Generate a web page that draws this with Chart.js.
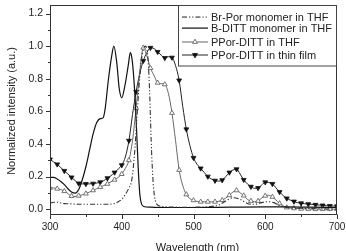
<!DOCTYPE html>
<html><head><meta charset="utf-8">
<script src="https://cdn.jsdelivr.net/npm/chart.js@4"></script>
<style>html,body{margin:0;padding:0;background:#fff;}canvas{display:block;}</style>
</head><body>
<canvas id="c" width="346" height="251"></canvas>
<script>
// ---- DATA ----
const seriesLabels = ["Br-Por monomer in THF", "B-DITT monomer in THF", "PPor-DITT in THF", "PPor-DITT in thin film"];
const xTicks = [300, 400, 500, 600, 700];
const xMinorTicks = [350, 450, 550, 650];
const yTicks = [0.0, 0.2, 0.4, 0.6, 0.8, 1.0, 1.2];
const yMinorTicks = [0.1, 0.3, 0.5, 0.7, 0.9, 1.1];
const xTitle = "Wavelength (nm)";
const yTitle = "Normalized intensity (a.u.)";

const brPorWl = [300,305,310,315,320,330,340,360,380,390,395,400,405,410,414,418,421,424,427,430,433,435,437,439,441,443,445,447,450,460,480,500,520,535,545,555,565,575,585,595,603,612,620,630,650,700];
const brPorInt = [0.038,0.042,0.042,0.038,0.034,0.032,0.030,0.030,0.030,0.035,0.045,0.060,0.090,0.130,0.180,0.350,0.550,0.750,0.900,0.980,1.000,0.980,0.900,0.700,0.420,0.220,0.100,0.050,0.025,0.015,0.012,0.012,0.015,0.025,0.050,0.070,0.060,0.035,0.030,0.040,0.045,0.040,0.020,0.010,0.005,0.000];

const bDittWl = [300,305,310,315,320,325,330,335,340,345,350,355,360,365,370,374,377,381,386,389,393,396.5,400,404.5,409,412,414,416,419,421,423,425,427,430,440,460,500,550,600,630,660,700];
const bDittInt = [0.195,0.195,0.185,0.170,0.150,0.125,0.105,0.098,0.120,0.180,0.260,0.360,0.460,0.530,0.555,0.560,0.620,0.780,0.940,1.000,0.900,0.740,0.683,0.760,0.880,0.960,0.930,0.850,0.650,0.450,0.250,0.100,0.040,0.018,0.012,0.010,0.010,0.012,0.014,0.014,0.012,0.010];

const thfWl = [300,305,310,315,320,325,330,335,340,345,350,355,360,365,370,375,380,385,390,395,400,405,410,415,420,425,430,435,440,445,450,455,460,465,470,475,480,485,490,495,500,505,510,515,520,525,530,535,540,545,550,555,560,565,570,575,580,585,590,595,600,605,610,615,620,625,630,640,650,660,670,680,690,700];
const thfInt = [0.130,0.130,0.125,0.120,0.110,0.095,0.080,0.078,0.082,0.088,0.095,0.105,0.115,0.125,0.135,0.145,0.155,0.168,0.180,0.195,0.215,0.250,0.300,0.420,0.620,0.840,0.990,0.940,0.865,0.820,0.775,0.770,0.765,0.710,0.590,0.420,0.240,0.145,0.090,0.065,0.054,0.047,0.045,0.045,0.045,0.045,0.045,0.048,0.055,0.068,0.085,0.105,0.115,0.100,0.083,0.060,0.050,0.045,0.050,0.068,0.082,0.085,0.075,0.055,0.035,0.020,0.010,0.005,0.002,0.001,0.000,0.000,0.000,0.000];

const filmWl = [300,305,310,315,320,325,330,335,340,345,350,355,360,365,370,375,380,385,390,395,400,405,410,415,420,425,430,435,440,445,450,455,460,465,470,475,480,485,490,495,500,505,510,515,520,525,530,535,540,545,550,555,560,565,570,575,580,585,590,595,600,605,610,615,620,625,630,635,640,645,650,655,660,665,670,675,680,685,690,695,700];
const filmInt = [0.305,0.290,0.275,0.255,0.235,0.215,0.195,0.175,0.158,0.155,0.155,0.155,0.157,0.160,0.165,0.175,0.190,0.205,0.225,0.245,0.270,0.320,0.420,0.580,0.720,0.830,0.910,0.960,0.990,0.985,0.965,0.945,0.928,0.935,0.930,0.880,0.790,0.630,0.490,0.390,0.315,0.275,0.250,0.225,0.200,0.185,0.175,0.172,0.178,0.200,0.225,0.240,0.245,0.215,0.180,0.155,0.138,0.128,0.130,0.148,0.165,0.163,0.155,0.130,0.105,0.083,0.066,0.055,0.047,0.040,0.036,0.033,0.031,0.029,0.027,0.025,0.023,0.021,0.020,0.019,0.018];

// ---- STYLES ----
const FONT = "'Liberation Sans', Arial, Helvetica, sans-serif";
const TXT = '#222';
const styles = [
  {color: '#333', width: 1.1, dash: [5, 2, 1.2, 2, 1.2, 2], marker: null},
  {color: '#111', width: 1.2, dash: [], marker: null},
  {color: '#666', width: 1, dash: [], marker: 'open'},
  {color: '#222', width: 1, dash: [], marker: 'filled'}
];
const pts = (xs, ys) => xs.map((x, i) => ({x: x, y: ys[i]}));
const markerRadius = ctx => (ctx.raw && ctx.raw.x % 10 === 0) ? 2.8 : 0;

const seriesData = [pts(brPorWl, brPorInt), pts(bDittWl, bDittInt), pts(thfWl, thfInt), pts(filmWl, filmInt)];
const datasets = seriesData.map((d, i) => {
  const s = styles[i];
  const ds = {label: seriesLabels[i], data: d, borderColor: s.color, borderWidth: s.width, borderDash: s.dash.slice(),
    cubicInterpolationMode: 'monotone', pointRadius: 0};
  if (s.marker === 'open') Object.assign(ds, {pointStyle: 'triangle', pointRadius: markerRadius,
    pointBackgroundColor: '#fff', pointBorderColor: '#666', pointBorderWidth: 0.9});
  if (s.marker === 'filled') Object.assign(ds, {pointStyle: 'triangle', pointRotation: 180, pointRadius: markerRadius,
    pointBackgroundColor: '#111', pointBorderColor: '#111', pointBorderWidth: 0.8});
  return ds;
});

const decor = {
  id: 'decor',
  afterDatasetsDraw(chart) {
    const {ctx, chartArea: a, scales: {x, y}} = chart;
    ctx.save();
    ctx.strokeStyle = '#333'; ctx.lineWidth = 1;
    const L = Math.round(a.left), T = Math.round(a.top), R = Math.round(a.right), B = Math.round(a.bottom);
    ctx.strokeRect(L + 0.5, T + 0.5, R - L - 1, B - T - 1);
    ctx.beginPath();
    const yb = B - 0.5, xl = L + 0.5;
    xTicks.forEach(v => { const p = Math.round(x.getPixelForValue(v)) + 0.5; ctx.moveTo(p, yb); ctx.lineTo(p, yb + 4.5); });
    xMinorTicks.forEach(v => { const p = Math.round(x.getPixelForValue(v)) + 0.5; ctx.moveTo(p, yb); ctx.lineTo(p, yb + 2.5); });
    yTicks.forEach(v => { const p = Math.round(y.getPixelForValue(v)) + 0.5; ctx.moveTo(xl, p); ctx.lineTo(xl - 4.5, p); });
    yMinorTicks.forEach(v => { const p = Math.round(y.getPixelForValue(v)) + 0.5; ctx.moveTo(xl, p); ctx.lineTo(xl - 2.5, p); });
    ctx.stroke();
    // axis titles
    ctx.fillStyle = TXT;
    ctx.font = '11px ' + FONT;
    ctx.textAlign = 'center'; ctx.textBaseline = 'middle';
    ctx.fillText(xTitle, (a.left + a.right) / 2 + 4, 248);
    ctx.save();
    ctx.translate(12, (a.top + a.bottom) / 2 + 1);
    ctx.rotate(-Math.PI / 2);
    ctx.fillText(yTitle, 0, 0);
    ctx.restore();
    // legend
    const bx = 178.5, by = T + 0.5, bw = R - 1 - 178, bh = 60.5;
    ctx.fillStyle = '#fff'; ctx.fillRect(bx, by, bw, bh);
    ctx.strokeStyle = '#444'; ctx.lineWidth = 1; ctx.strokeRect(bx, by, bw, bh);
    const rows = [12, 23, 37, 49.5];
    styles.forEach((s, i) => {
      const ry = Math.round(T + rows[i]);
      ctx.save();
      ctx.fillStyle = s.color;
      if (s.dash.length) {
        let xx = 182, k = 0;
        while (xx < 208) {
          const seg = s.dash[k % s.dash.length];
          if (k % 2 === 0) ctx.fillRect(xx, ry - 0.5, Math.min(seg, 208 - xx), 1.1);
          xx += seg; k++;
        }
      } else {
        ctx.fillRect(182, ry - 0.5, 26, s.width >= 1.1 ? 1.2 : 1);
      }
      if (s.marker) {
        const r = 2.8, cx = 195, cy = ry;
        ctx.beginPath();
        if (s.marker === 'open') {
          ctx.moveTo(cx, cy - r); ctx.lineTo(cx + r * 0.866, cy + r * 0.5); ctx.lineTo(cx - r * 0.866, cy + r * 0.5);
          ctx.fillStyle = '#fff'; ctx.strokeStyle = '#666';
        } else {
          ctx.moveTo(cx, cy + r); ctx.lineTo(cx + r * 0.866, cy - r * 0.5); ctx.lineTo(cx - r * 0.866, cy - r * 0.5);
          ctx.fillStyle = '#111'; ctx.strokeStyle = '#111';
        }
        ctx.closePath();
        ctx.fill(); ctx.lineWidth = 0.9; ctx.stroke();
      }
      ctx.restore();
      ctx.fillStyle = TXT; ctx.font = '11px ' + FONT; ctx.textAlign = 'left'; ctx.textBaseline = 'middle';
      ctx.fillText(seriesLabels[i], 211, ry + 0.5);
    });
    ctx.restore();
  }
};

new Chart(document.getElementById('c'), {
  type: 'line',
  data: {datasets: datasets},
  options: {
    responsive: false, animation: false, devicePixelRatio: 1,
    layout: {padding: {left: 0, top: 2, right: 9, bottom: 0}},
    plugins: {legend: {display: false}, tooltip: {enabled: false}},
    elements: {line: {fill: false}},
    scales: {
      x: {type: 'linear', min: 300, max: 700,
        afterBuildTicks: s => { s.ticks = xTicks.map(v => ({value: v})); },
        afterFit: s => { s.height = 36; s.paddingLeft = 0; s.paddingRight = 0; },
        ticks: {font: {size: 10, family: FONT}, color: TXT, padding: 6, maxRotation: 0, autoSkip: false, callback: v => String(v)},
        grid: {display: false, drawTicks: false}, border: {display: false}},
      y: {type: 'linear', min: -0.036, max: 1.253,
        afterBuildTicks: s => { s.ticks = yTicks.map(v => ({value: v})); },
        afterFit: s => { s.width = 50; s.paddingTop = 0; s.paddingBottom = 0; },
        ticks: {font: {size: 10.5, family: FONT}, color: TXT, padding: 7, autoSkip: false, callback: v => Number(v).toFixed(1)},
        grid: {display: false, drawTicks: false}, border: {display: false}}
    }
  },
  plugins: [decor]
});
</script>
</body></html>
